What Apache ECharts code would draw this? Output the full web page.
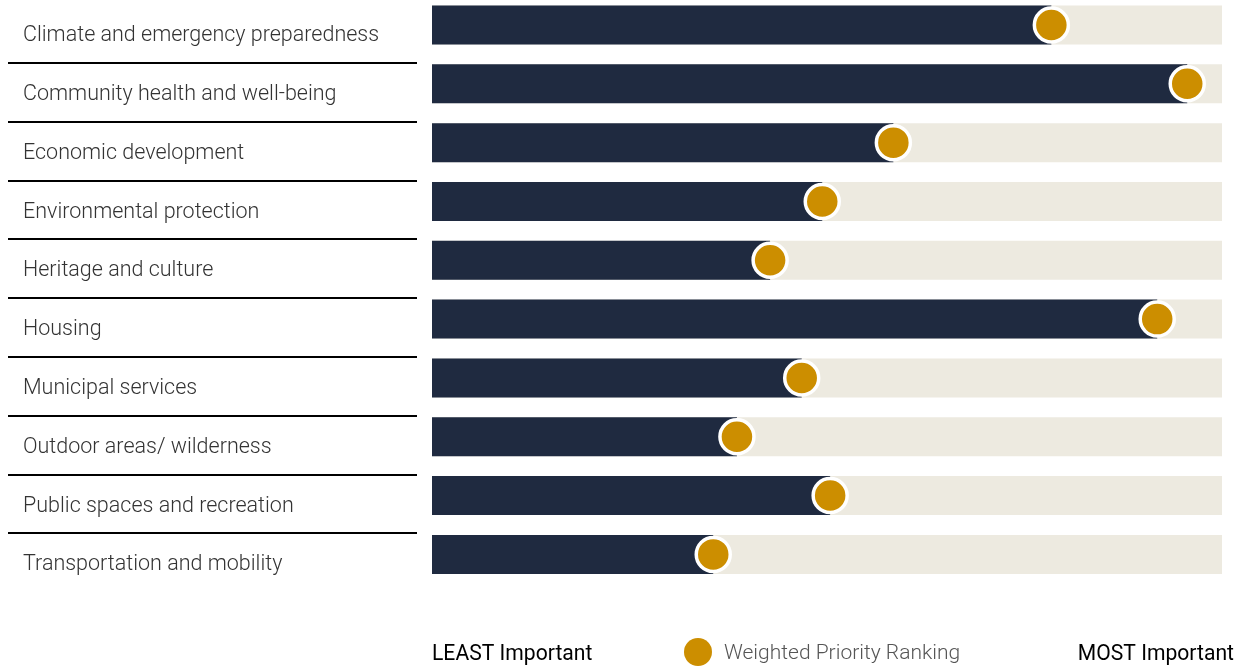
<!DOCTYPE html>
<html>
<head>
<meta charset="utf-8">
<script src="https://cdn.jsdelivr.net/npm/echarts@6/dist/echarts.min.js"></script>
<style>
  html, body { margin: 0; padding: 0; background: #fff; }
  #chart { width: 1243px; height: 669px; }
</style>
</head>
<body>
<div id="chart"></div>
<script>
// Priority areas and their weighted ranking (0 = least, 10 = most important)
const categories = [
  'Climate and emergency preparedness',
  'Community health and well-being',
  'Economic development',
  'Environmental protection',
  'Heritage and culture',
  'Housing',
  'Municipal services',
  'Outdoor areas/ wilderness',
  'Public spaces and recreation',
  'Transportation and mobility'
];
const rankings = [7.84, 9.56, 5.84, 4.94, 4.28, 9.18, 4.68, 3.86, 5.04, 3.56];
const scaleMin = 0;
const scaleMax = 10;
const seriesName = 'Weighted Priority Ranking';
const leastLabel = 'LEAST Important';
const mostLabel = 'MOST Important';

const NAVY = '#1F2A40';
const TRACK = '#EDEAE0';
const GOLD = '#CC8E00';
const FONT = 'Roboto, "Noto Sans", sans-serif';

// separator rules between rows only: hide the first and last boundary
const ruleColors = categories.map(() => '#000').concat(['rgba(0,0,0,0)']);
ruleColors[0] = 'rgba(0,0,0,0)';

const chart = echarts.init(document.getElementById('chart'), null, { renderer: 'canvas' });

chart.setOption({
  animation: false,
  grid: [
    // bars
    { left: 432, right: 21, top: -4.4, bottom: 85.2, outerBoundsMode: 'none', containLabel: false },
    // category names with separator rules
    { left: 8, width: 409, top: 4, bottom: 77, outerBoundsMode: 'none', containLabel: false }
  ],
  xAxis: [
    { gridIndex: 0, type: 'value', min: scaleMin, max: scaleMax, show: false },
    { gridIndex: 1, type: 'value', min: 0, max: 1, show: false }
  ],
  yAxis: [
    { gridIndex: 0, type: 'category', data: categories, inverse: true, show: false },
    {
      gridIndex: 1, type: 'category', data: categories, inverse: true,
      axisLine: { show: false }, axisTick: { show: false },
      axisLabel: {
        inside: true, margin: 15,
        verticalAlign: 'middle',
        formatter: (v) => '{name|' + v + '}',
        rich: {
          name: {
            color: '#333', fontFamily: FONT, fontSize: 21.5, fontWeight: 300,
            padding: [5, 0, 0, 0]
          }
        }
      },
      splitLine: {
        show: true,
        lineStyle: { color: ruleColors, width: 2 }
      }
    }
  ],
  legend: {
    data: [{ name: seriesName, icon: 'circle' }],
    left: 679, top: 633,
    itemWidth: 28, itemHeight: 28,
    itemStyle: { borderWidth: 0, opacity: 1 },
    formatter: (n) => '{t|' + n + '}',
    textStyle: {
      rich: {
        t: { color: '#555', fontFamily: FONT, fontSize: 21, fontWeight: 300, padding: [4, 0, 0, 7] }
      }
    }
  },
  graphic: [
    {
      type: 'text', x: 432, y: 654, scaleX: 0.96,
      style: { text: leastLabel, fill: '#000', font: '400 22px ' + FONT, textVerticalAlign: 'middle' }
    },
    {
      type: 'text', x: 1234, y: 654, scaleX: 0.96,
      style: { text: mostLabel, fill: '#000', font: '400 22px ' + FONT, textAlign: 'right', textVerticalAlign: 'middle' }
    }
  ],
  series: [
    {
      name: 'score',
      type: 'bar',
      xAxisIndex: 0, yAxisIndex: 0,
      data: rankings,
      barWidth: 39,
      showBackground: true,
      backgroundStyle: { color: TRACK },
      itemStyle: { color: NAVY },
      silent: true
    },
    {
      name: seriesName,
      type: 'scatter',
      xAxisIndex: 0, yAxisIndex: 0,
      data: rankings,
      symbol: 'circle',
      symbolSize: 34,
      itemStyle: { color: GOLD, opacity: 1, borderColor: '#fff', borderWidth: 3.5 },
      z: 5
    }
  ]
});
</script>
</body>
</html>
